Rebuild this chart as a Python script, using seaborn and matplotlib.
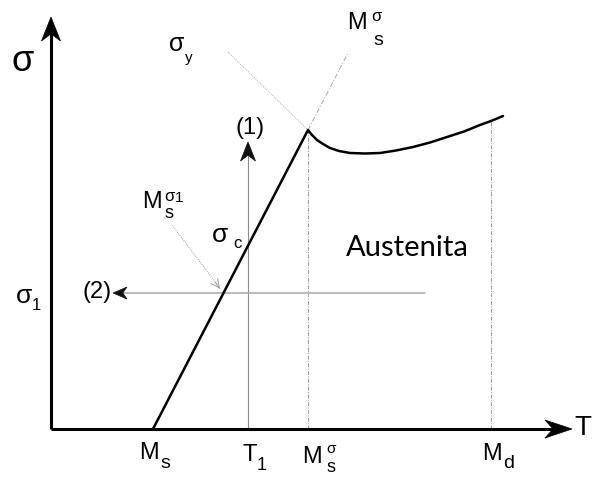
import numpy as np
import pandas as pd
import matplotlib
matplotlib.use("Agg")
import matplotlib.pyplot as plt
from matplotlib.patches import Polygon
import seaborn as sns

# Characteristic temperatures (T axis) and stresses (sigma axis), schematic units
T_MS = 102       # Ms
T_1 = 197        # T1
T_MS_SIGMA = 257 # Ms^sigma
T_MD = 440       # Md
SIGMA_1 = 136    # sigma_1
T_MAX = 521
SIGMA_MAX = 412

# Critical stress curve: linear branch from Ms up to Ms^sigma, then yield branch up to Md
curve_T = [102, 257, 261, 266, 272, 279, 288, 299, 314, 329, 345, 362, 379, 396, 413, 429, 440, 452]
curve_S = [0, 299, 294, 289, 285, 281, 278, 276, 275.5, 276, 278.5, 282, 286.5, 292, 297.5, 304, 308, 313]

curve = pd.DataFrame({"T": curve_T, "sigma": curve_S})
sigma_peak = curve_S[1]
sigma_md = 308
slope = sigma_peak / (T_MS_SIGMA - T_MS)
T_cross = T_MS + SIGMA_1 / slope

sns.set_theme(style="white")
plt.rcParams["font.family"] = ["Liberation Sans", "DejaVu Sans"]

fig = plt.figure(figsize=(5.92, 4.79), dpi=100)
ax = fig.add_axes([0, 0, 1, 1])
ax.set_xlim(-51, 541)
ax.set_ylim(-50, 429)
ax.set_axis_off()


def stealth(ax, tip, direction, length, width, color="black", notch=0.3):
    tip = np.asarray(tip, float)
    d = np.asarray(direction, float)
    d = d / np.hypot(*d)
    n = np.array([-d[1], d[0]])
    base = tip - d * length
    pts = [tip, base + n * width / 2, tip - d * length * (1 - notch), base - n * width / 2]
    ax.add_patch(Polygon(pts, closed=True, facecolor=color, edgecolor=color, lw=0.5, zorder=6))


# Axes with arrowheads
ax.plot([0, 0], [0, SIGMA_MAX - 15], color="black", lw=2.2, solid_capstyle="butt", zorder=5)
stealth(ax, (0, SIGMA_MAX), (0, 1), 24, 19)
ax.plot([0, T_MAX - 15], [0, 0], color="black", lw=2.2, solid_capstyle="butt", zorder=5)
stealth(ax, (T_MAX, 0), (1, 0), 27, 18)

# Guide lines at Ms^sigma and Md
ax.plot([T_MS_SIGMA, T_MS_SIGMA], [0, sigma_peak], color="#9a9a9a", lw=0.7, ls=(0, (4, 1.5, 1, 1.5)))
ax.plot([T_MD, T_MD], [0, sigma_md], color="#9a9a9a", lw=0.7, ls=(0, (4, 1.5, 1, 1.5)))

# Extensions of the two branches beyond the intersection
ax.plot([177, T_MS_SIGMA], [377, sigma_peak], color="#b0b0b0", lw=0.7, ls=(0, (1, 1.2)))
ax.plot([T_MS_SIGMA, 297], [sigma_peak, 376], color="#a8a8a8", lw=0.7, ls=(0, (5, 2, 1, 2)))

# Path (1): heating at constant T1
ax.plot([T_1, T_1], [0, 278], color="#8a8a8a", lw=0.8)
stealth(ax, (T_1, 287), (0, 1), 19, 15, color="#111111")

# Path (2): cooling at constant sigma_1
ax.plot([374, 70], [SIGMA_1, SIGMA_1], color="#a8a8a8", lw=1.1)
stealth(ax, (62, SIGMA_1), (-1, 0), 14, 12, color="#111111")

# Pointer to Ms^sigma1
ax.plot([121, T_cross - 3], [204, SIGMA_1 + 4], color="#a0a0a0", lw=0.7, ls=(0, (1, 1.2)))
ax.annotate("", xy=(T_cross - 2, SIGMA_1 + 2), xytext=(T_cross - 10, SIGMA_1 + 13),
            arrowprops=dict(arrowstyle="->,head_length=0.5,head_width=0.25", color="#a0a0a0", lw=0.7))

# Critical stress curve
sns.lineplot(data=curve, x="T", y="sigma", sort=False, estimator=None, color="black",
             lw=1.8, ax=ax, zorder=7)

txt = dict(ha="center", va="center", color="black")

# Axis labels
ax.text(-28, 368, "σ", fontsize=26, **txt)
ax.text(532, 1, "T", fontsize=20, **txt)

# sigma_y
ax.text(126, 385, "σ", fontsize=18, **txt)
ax.text(138, 371, "y", fontsize=11, **txt)

# Ms^sigma (top)
ax.text(306, 406, "M", fontsize=17, **txt)
ax.text(325, 413, "σ", fontsize=12, **txt)
ax.text(327, 389, "s", fontsize=14, **txt)

# Paths
ax.text(199, 301, "(1)", fontsize=17, **txt)
ax.text(46, 137, "(2)", fontsize=17, **txt)

# Ms^sigma1
ax.text(101, 227, "M", fontsize=17, **txt)
ax.text(118, 216, "s", fontsize=13, **txt)
ax.text(118, 233, "σ", fontsize=12, **txt)
ax.text(128, 231, "1", fontsize=11, **txt)

# sigma_c
ax.text(169, 194, "σ", fontsize=19, **txt)
ax.text(186, 186, "c", fontsize=12, **txt)

# sigma_1
ax.text(-27, 133, "σ", fontsize=19, **txt)
ax.text(-15, 123, "1", fontsize=12, **txt)

# Temperature labels along the T axis
ax.text(T_MS - 4, -24, "M", fontsize=17, **txt)
ax.text(T_MS + 12, -35, "s", fontsize=14, **txt)
ax.text(T_1 + 2, -26, "T", fontsize=17, **txt)
ax.text(T_1 + 14, -36, "1", fontsize=13, **txt)
ax.text(T_MS_SIGMA + 4, -28, "M", fontsize=17, **txt)
ax.text(T_MS_SIGMA + 23, -20, "σ", fontsize=11, **txt)
ax.text(T_MS_SIGMA + 23, -38, "s", fontsize=13, **txt)
ax.text(T_MD + 1, -25, "M", fontsize=17, **txt)
ax.text(T_MD + 18, -34, "d", fontsize=14, **txt)

# Region label
ax.text(356, 181, "Austenita", fontsize=21, family=["Lato", "DejaVu Sans"], **txt)

fig.savefig("out.png", dpi=100)
